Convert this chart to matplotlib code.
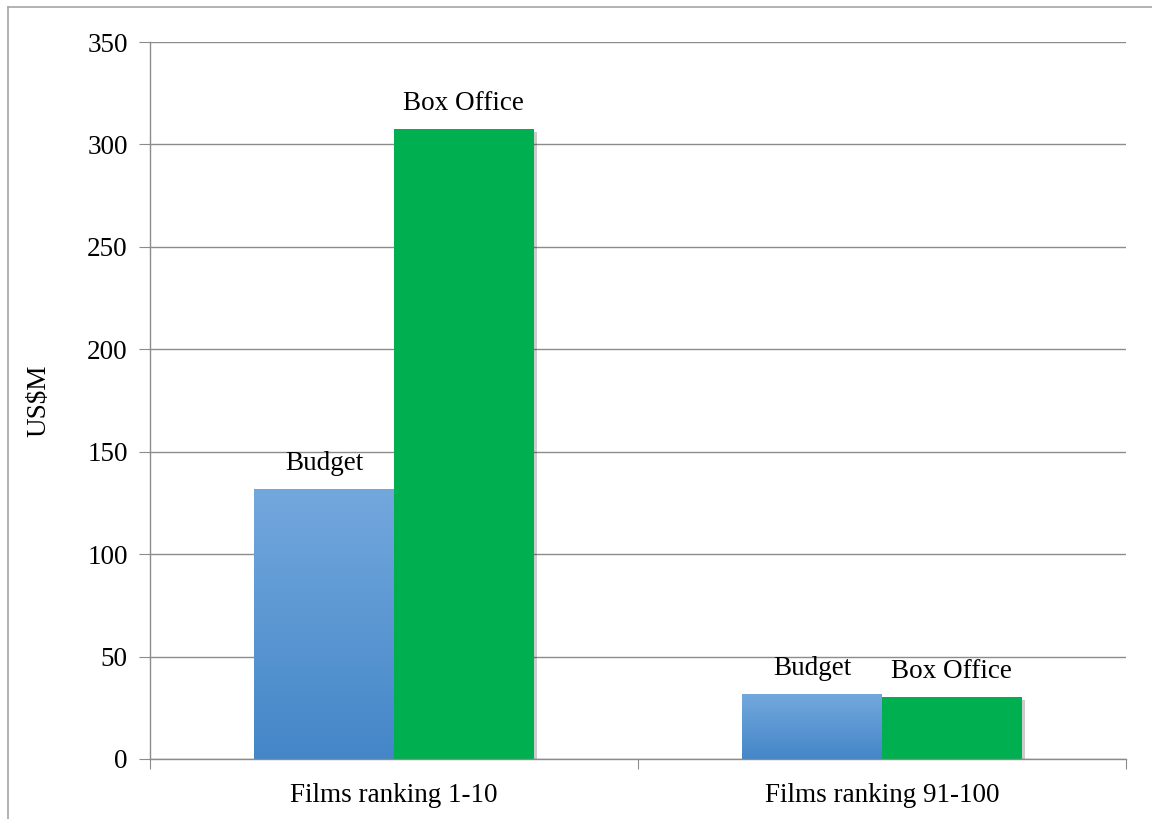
import numpy as np
import matplotlib
matplotlib.use("Agg")
import matplotlib.pyplot as plt
from matplotlib.lines import Line2D
from matplotlib import patheffects as pe
from matplotlib.colors import LinearSegmentedColormap

categories = ["Films ranking 1-10", "Films ranking 91-100"]
budget = [132, 31.7]
box_office = [307.5, 30.3]
series_names = ["Budget", "Box Office"]
yticks = [0, 50, 100, 150, 200, 250, 300, 350]

plt.rcParams["font.family"] = ["Liberation Serif", "DejaVu Serif"]
FS = 19.5

fig = plt.figure(figsize=(11.52, 8.19), dpi=100)
ax = fig.add_axes([150 / 1152, 60 / 819, 976 / 1152, 717 / 819])

x = np.arange(len(categories))
width = 0.2866
grid_col = "#8c8c8c"

ax.set_xlim(-0.5, len(categories) - 0.5)
ax.set_ylim(0, 350)
ax.set_yticks(yticks)
ax.yaxis.grid(True, color=grid_col, linewidth=1)
ax.set_axisbelow(True)

shadow = [pe.SimplePatchShadow(offset=(2, -2), shadow_rgbFace="#000000", alpha=0.2), pe.Normal()]

budget_bars = ax.bar(x - width / 2, budget, width, color="#5b9bd5", zorder=2,
                     path_effects=shadow)
box_bars = ax.bar(x + width / 2, box_office, width, color="#00b050", zorder=2,
                  path_effects=shadow)

# vertical gradient on the budget bars
cmap = LinearSegmentedColormap.from_list("bud", ["#4486c8", "#73a8dd"])
grad = np.linspace(0, 1, 256).reshape(-1, 1)
for rect in budget_bars:
    x0, w, h = rect.get_x(), rect.get_width(), rect.get_height()
    im = ax.imshow(grad, cmap=cmap, origin="lower", aspect="auto",
                   extent=(x0, x0 + w, 0, h), zorder=2.5)
    im.set_clip_path(rect)
ax.set_xlim(-0.5, len(categories) - 0.5)
ax.set_ylim(0, 350)

for bars, name in zip([budget_bars, box_bars], series_names):
    for rect in bars:
        ax.annotate(name, (rect.get_x() + rect.get_width() / 2, rect.get_height()),
                    xytext=(0, 13.7), textcoords="offset points",
                    ha="center", va="baseline", fontsize=FS, zorder=5)

for s in ["top", "right"]:
    ax.spines[s].set_visible(False)
for s in ["left", "bottom"]:
    ax.spines[s].set_color(grid_col)
    ax.spines[s].set_linewidth(1)

ax.set_xticks([-0.5, 0.5, 1.5])
ax.set_xticklabels([])
ax.set_xticks(x, minor=True)
ax.set_xticklabels(categories, minor=True, fontsize=FS)
ax.tick_params(axis="x", which="major", length=7, color=grid_col, direction="out")
ax.tick_params(axis="x", which="minor", length=0, pad=17)
ax.tick_params(axis="y", length=8, color=grid_col, labelsize=FS, pad=8)
ax.set_ylabel("US$M", fontsize=FS, labelpad=26)

# outer frame lines (top and left)
fig.add_artist(Line2D([8 / 1152, 1.0], [1 - 7 / 819, 1 - 7 / 819],
                      transform=fig.transFigure, color="#a6a6a6", linewidth=1.2))
fig.add_artist(Line2D([8 / 1152, 8 / 1152], [0, 1 - 7 / 819],
                      transform=fig.transFigure, color="#a6a6a6", linewidth=1.2))

fig.savefig("out.png", dpi=100)
